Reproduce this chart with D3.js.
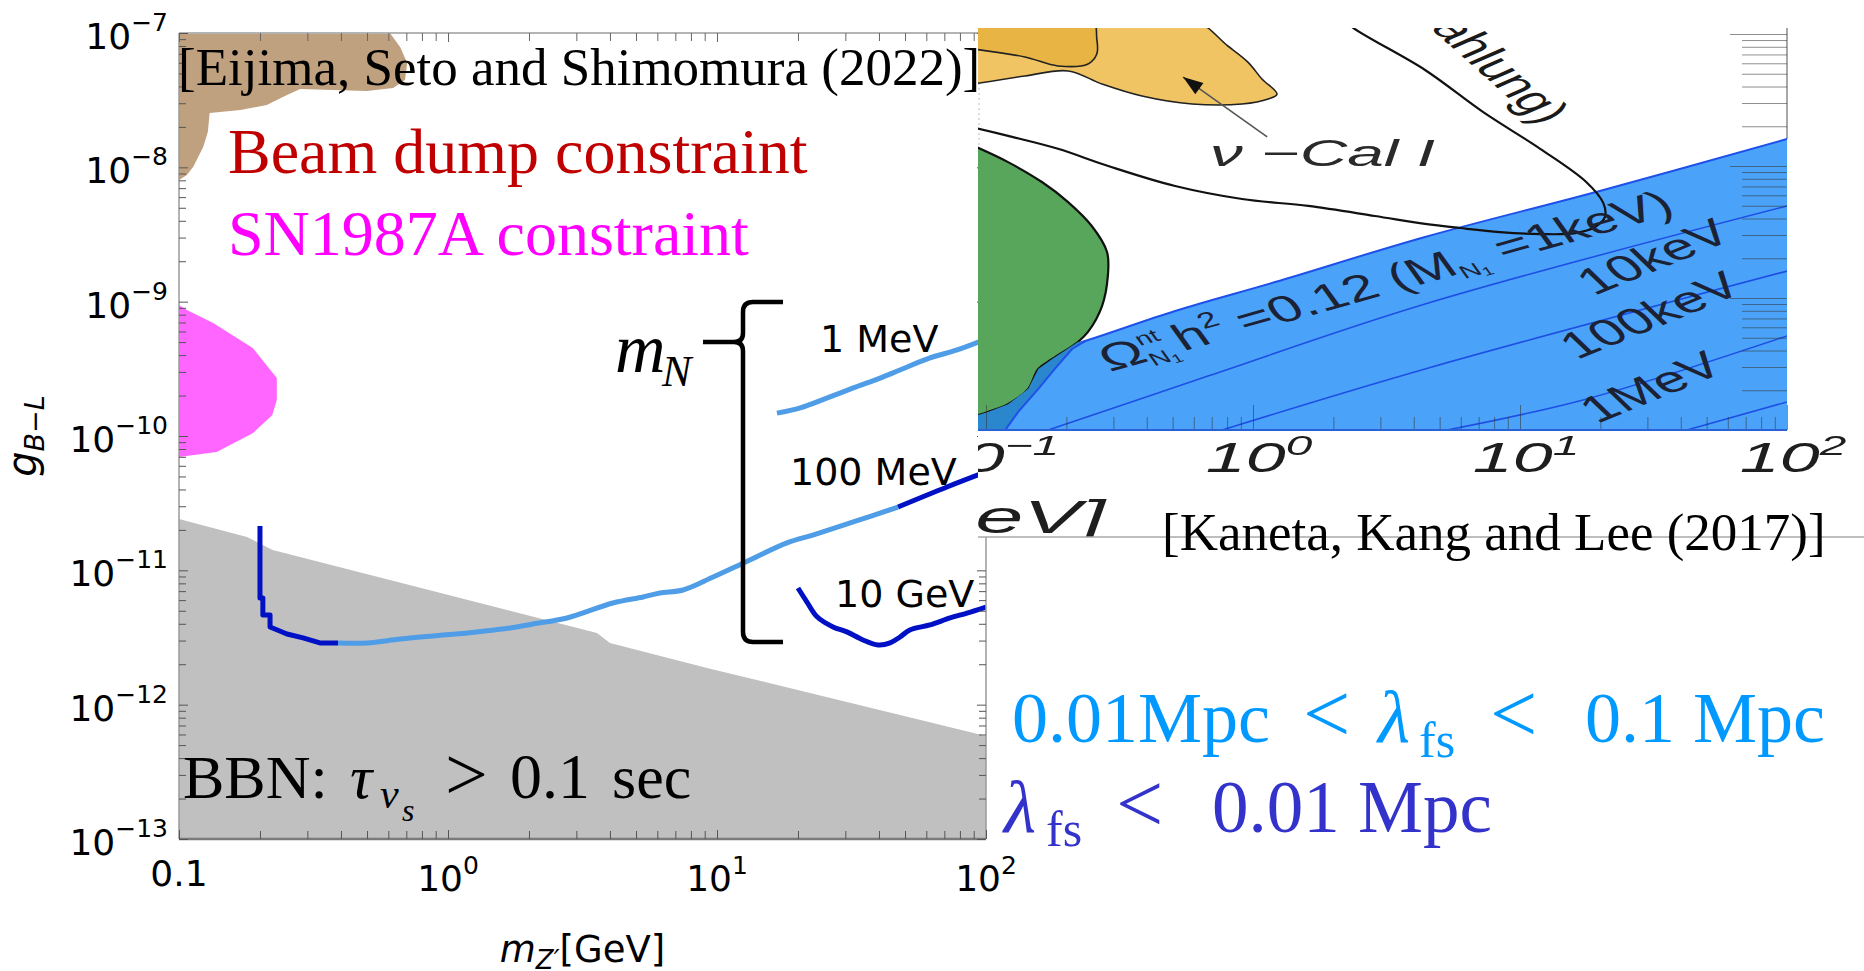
<!DOCTYPE html>
<html>
<head>
<meta charset="utf-8">
<title>B−L gauge coupling constraints</title>
<script src="https://cdn.jsdelivr.net/npm/d3@7"></script>
<style>
  html, body { margin: 0; padding: 0; background: #fff; }
  svg { display: block; }
</style>
</head>
<body>
<svg id="fig" width="1864" height="971"></svg>
<script>
// ---------------- Left panel: g_{B-L} versus m_{Z'} [GeV] ----------------
const xMajorTicks = [0.1, 1, 10, 100];
const xTickBases = ["0.1", "10", "10", "10"];
const xTickExps = [null, "0", "1", "2"];
const yMajorExponents = [-13, -12, -11, -10, -9, -8, -7];

// Excluded regions, points as [m_Z' (GeV), g_{B-L}]
const beamDump = [[0.1,1e-7],[0.608,1e-7],[0.664,7.87e-8],[0.705,5.98e-8],[0.692,4.47e-8],[0.625,3.90e-8],
  [0.5,3.70e-8],[0.282,3.83e-8],[0.252,3.46e-8],[0.212,2.91e-8],[0.169,2.67e-8],[0.130,2.54e-8],
  [0.128,1.83e-8],[0.123,1.42e-8],[0.113,1.01e-8],[0.107,8.77e-9],[0.1,8.05e-9]];
const sn1987a = [[0.1,9.44e-10],[0.107,8.67e-10],[0.134,6.94e-10],[0.188,4.52e-10],[0.231,2.70e-10],
  [0.231,1.85e-10],[0.222,1.43e-10],[0.188,1.05e-10],[0.138,7.60e-11],[0.1,6.98e-11]];
const bbnUpperEdge = [[0.1,2.41e-11],[0.179,1.77e-11],[0.223,1.42e-11],[3.58,3.42e-12],[4.0,2.88e-12],
  [9.26,1.87e-12],[100,5.85e-13]];

// Contours for three sterile-neutrino masses
const curve1MeV = [[16.7,1.48e-10],[20.4,1.62e-10],[25.7,1.92e-10],[32.1,2.28e-10],[40.4,2.70e-10],
  [47.9,3.10e-10],[61.9,3.81e-10],[78.0,4.37e-10],[100,5.27e-10]];
const curve100MeVLow = [[0.2,2.14e-11],[0.2,6.22e-12],[0.205,6.22e-12],[0.205,4.65e-12],[0.218,4.65e-12],
  [0.218,3.79e-12],[0.252,3.36e-12],[0.289,3.14e-12],[0.334,2.88e-12],[0.39,2.88e-12]];
const curve100MeVMid = [[0.39,2.88e-12],[0.5,2.88e-12],[0.664,3.08e-12],[0.879,3.25e-12],[1.18,3.42e-12],
  [1.70,3.72e-12],[2.07,3.99e-12],[2.77,4.42e-12],[4.10,5.71e-12],[5.31,6.33e-12],[6.14,6.78e-12],
  [7.48,7.14e-12],[9.67,8.92e-12],[12.5,1.13e-11],[18.2,1.60e-11],[22.7,1.83e-11],[32.1,2.29e-11],[47.1,2.96e-11]];
const curve100MeVHigh = [[47.1,2.96e-11],[71.6,4.17e-11],[100,5.40e-11]];
const curve10GeV = [[20.0,7.39e-12],[21.6,5.81e-12],[23.6,4.49e-12],[27.0,3.79e-12],[30.4,3.48e-12],
  [34.9,3.03e-12],[39.7,2.78e-12],[44.0,2.88e-12],[47.9,3.19e-12],[52.1,3.60e-12],[61.9,3.92e-12],
  [73.5,4.42e-12],[85.0,4.81e-12],[100,5.33e-12]];
const mNLabels = ["1 MeV", "100 MeV", "10 GeV"];

// ---------------- Right panel: relic-abundance plane ----------------
const rightXTicks = [0.1, 1, 10, 100];
const rightXExps = ["−1", "0", "1", "2"];
const relicBoundary1keV = [[0.09,2.6e-12],[0.235,4.72e-12],[0.511,7.97e-12],[1.21,1.32e-11],[4.41,2.90e-11],
  [19.9,6.47e-11],[100,1.60e-10]];
const relic10keV = [[0.171,1e-12],[0.678,2.56e-12],[4.41,9.0e-12],[100,4.98e-11]];
const relic100keV = [[0.766,1e-12],[4.41,2.90e-12],[100,1.60e-11]];
const relic1MeV = [[5.33,1e-12],[17.8,1.72e-12],[100,5.16e-12]];
const relic10MeV = [[42.2,1e-12],[100,1.63e-12]];
const relicLabels = ["10keV", "100keV", "1MeV"];
const greenRegion = [[0.09,1.42e-10],[0.121,1.07e-10],[0.162,7.56e-11],[0.203,5.33e-11],[0.249,3.51e-11],
  [0.284,2.23e-11],[0.286,1.47e-11],[0.272,8.69e-12],[0.241,5.53e-12],[0.221,4.64e-12],[0.177,3.45e-12],
  [0.157,2.90e-12],[0.144,2.05e-12],[0.121,1.57e-12],[0.1017,1.37e-12],[0.09,1.27e-12]];
const overlapBand = [[0.235,4.72e-12],[0.210,4.11e-12],[0.181,2.90e-12],[0.157,2.05e-12],[0.132,1.37e-12],
  [0.118,1e-12],[0.09,1e-12],[0.09,1.27e-12],[0.1017,1.37e-12],[0.121,1.57e-12],[0.144,2.05e-12],
  [0.157,2.90e-12],[0.177,3.45e-12],[0.221,4.64e-12]];
const nuCalOuter = [[0.09,1.3e-9],[0.586,1.3e-9],[0.805,8.11e-10],[0.957,6.13e-10],[1.08,4.56e-10],
  [1.23,3.51e-10],[1.14,3.22e-10],[0.910,2.95e-10],[0.591,2.95e-10],[0.384,3.39e-10],[0.272,4.18e-10],
  [0.203,5.25e-10],[0.140,4.81e-10],[0.09,4.18e-10]];
const nuCalInner = [[0.09,1.3e-9],[0.249,1.3e-9],[0.260,9.17e-10],[0.260,7.05e-10],[0.241,5.93e-10],
  [0.186,5.73e-10],[0.140,6.70e-10],[0.09,7.69e-10]];
const bremsCurve = [[2.2,1.3e-9],[2.35,1.13e-9],[4.41,5.34e-10],[7.26,2.57e-10],[11.9,1.35e-10],
  [17.7,7.57e-11],[20.5,5.25e-11],[20.8,4.11e-11],[19.1,3.45e-11],[16.1,3.10e-11],[11.9,3.05e-11],
  [8.41,3.16e-11],[5.96,3.39e-11],[4.41,3.64e-11],[2.86,4.18e-11],[1.61,4.98e-11],[0.910,5.62e-11],
  [0.511,7.05e-11],[0.287,1.0e-10],[0.186,1.35e-10],[0.121,1.69e-10],[0.09,1.95e-10]];
const nuCalArrow = [[1.13,1.66e-10],[0.547,4.72e-10]];

// ---------------- Scales ----------------
const L = { left: 179, right: 986, top: 33, bottom: 839 };
const x = d3.scaleLog().domain([0.1, 100]).range([L.left, L.right]);
const y = d3.scaleLog().domain([1e-13, 1e-7]).range([L.bottom, L.top]);

const R = { left: 986, right: 1787, top: 34, bottom: 430 };
const xr = d3.scaleLog().domain([0.1, 100]).range([R.left, R.right]);
const yr = d3.scaleLog().domain([1e-12, 1e-9]).range([R.bottom, R.top]);

const svg = d3.select("#fig");
const defs = svg.append("defs");
function clipRect(id, x0, y0, w, h) {
  defs.append("clipPath").attr("id", id).append("rect")
    .attr("x", x0).attr("y", y0).attr("width", w).attr("height", h);
}
clipRect("clipLeft", L.left, L.top, L.right - L.left, L.bottom - L.top);
clipRect("clipRight", 978, 28, R.right - 978, R.bottom - 28);
clipRect("clipImage", 978, 28, 886, 509);

const minorTicks = (e0, e1) => {
  const out = [];
  for (let e = e0; e < e1; e++) for (let k = 2; k <= 9; k++) out.push(k * Math.pow(10, e));
  return out;
};

const lineL = d3.line().x(d => x(d[0])).y(d => y(d[1]));
const smoothL = d3.line().x(d => x(d[0])).y(d => y(d[1])).curve(d3.curveCatmullRom.alpha(0.5));
const lineR = d3.line().x(d => xr(d[0])).y(d => yr(d[1]));
const smoothR = d3.line().x(d => xr(d[0])).y(d => yr(d[1])).curve(d3.curveCatmullRom.alpha(0.5));

// ================= Left panel =================
const gLeft = svg.append("g");
const fills = gLeft.append("g").attr("clip-path", "url(#clipLeft)");
fills.append("path").attr("d", lineL(beamDump) + "Z").attr("fill", "#bfa07f");
fills.append("path").attr("d", lineL(sn1987a) + "Z").attr("fill", "#ff66ff");
fills.append("path").attr("d", lineL([...bbnUpperEdge, [100, 1e-13], [0.1, 1e-13]]) + "Z").attr("fill", "#c0c0c0");

const curves = gLeft.append("g").attr("clip-path", "url(#clipLeft)")
  .attr("fill", "none").attr("stroke-width", 5).attr("stroke-linejoin", "round");
const lightBlue = "#4f9de6", darkBlue = "#0010c4";
curves.append("path").attr("d", smoothL(curve1MeV)).attr("stroke", lightBlue);
curves.append("path").attr("d", lineL(curve100MeVLow)).attr("stroke", darkBlue);
curves.append("path").attr("d", smoothL(curve100MeVMid)).attr("stroke", lightBlue);
curves.append("path").attr("d", smoothL(curve100MeVHigh)).attr("stroke", darkBlue);
curves.append("path").attr("d", smoothL(curve10GeV)).attr("stroke", darkBlue);

// frame
const frame = gLeft.append("g");
frame.append("line").attr("x1", L.left).attr("x2", L.right).attr("y1", L.top).attr("y2", L.top).attr("stroke", "#b4b4b4").attr("stroke-width", 2);
frame.append("line").attr("x1", L.left).attr("x2", L.left).attr("y1", L.top).attr("y2", L.bottom).attr("stroke", "#9a9a9a").attr("stroke-width", 1.5);
frame.append("line").attr("x1", L.right).attr("x2", L.right).attr("y1", L.top).attr("y2", L.bottom).attr("stroke", "#9a9a9a").attr("stroke-width", 1.5);
frame.append("line").attr("x1", L.left).attr("x2", L.right).attr("y1", L.bottom).attr("y2", L.bottom).attr("stroke", "#7a7a7a").attr("stroke-width", 2.5);

function tickAxis(parent, axisFn, scale, values, size, tx, ty, color) {
  parent.append("g").attr("transform", `translate(${tx},${ty})`).attr("color", color)
    .call(axisFn(scale).tickValues(values).tickSize(size).tickFormat(""))
    .call(g => g.select(".domain").remove());
}
const yMajor = yMajorExponents.map(e => Math.pow(10, e));
const yMinor = minorTicks(-13, -7);
const xMinor = minorTicks(-1, 2);
tickAxis(frame, d3.axisLeft, y, yMajor, -9, L.left, 0, "#555");
tickAxis(frame, d3.axisLeft, y, yMinor, -7, L.left, 0, "#555");
tickAxis(frame, d3.axisRight, y, yMajor, -9, L.right, 0, "#555");
tickAxis(frame, d3.axisRight, y, yMinor, -7, L.right, 0, "#555");
tickAxis(frame, d3.axisBottom, x, xMajorTicks, -9, 0, L.bottom, "#555");
tickAxis(frame, d3.axisBottom, x, xMinor, -8, 0, L.bottom, "#555");
tickAxis(frame, d3.axisTop, x, xMajorTicks, -9, 0, L.top, "#666");
tickAxis(frame, d3.axisTop, x, xMinor, -8, 0, L.top, "#666");

// tick labels
const tickText = gLeft.append("g").attr("font-family", "DejaVu Sans").attr("fill", "#000");
yMajorExponents.forEach(e => {
  const t = tickText.append("text").attr("x", 168).attr("y", y(Math.pow(10, e)) + 16).attr("text-anchor", "end");
  t.append("tspan").attr("font-size", 36).text("10");
  t.append("tspan").attr("font-size", 25).attr("dy", -18).text("−" + Math.abs(e));
});
xMajorTicks.forEach((v, i) => {
  const t = tickText.append("text").attr("x", x(v)).attr("text-anchor", "middle");
  if (xTickExps[i] === null) {
    t.attr("y", 886).attr("font-size", 36).text(xTickBases[i]);
  } else {
    t.attr("y", 891);
    t.append("tspan").attr("font-size", 36).text(xTickBases[i]);
    t.append("tspan").attr("font-size", 25).attr("dy", -17).text(xTickExps[i]);
  }
});

// axis titles
const xt = gLeft.append("text").attr("x", (L.left + L.right) / 2).attr("y", 962)
  .attr("text-anchor", "middle").attr("font-family", "DejaVu Sans").attr("fill", "#000");
xt.append("tspan").attr("font-size", 37).attr("font-style", "italic").text("m");
xt.append("tspan").attr("font-size", 26).attr("font-style", "italic").attr("dy", 7).text("Z′");
xt.append("tspan").attr("font-size", 37).attr("dy", -7).text("[GeV]");

const yt = gLeft.append("text").attr("transform", `translate(36,${(L.top + L.bottom) / 2}) rotate(-90)`)
  .attr("text-anchor", "middle").attr("font-family", "DejaVu Sans").attr("font-style", "italic").attr("fill", "#000");
yt.append("tspan").attr("font-size", 40).text("g");
yt.append("tspan").attr("font-size", 27).attr("dy", 8).text("B−L");

// annotations
const serif = "Liberation Serif, Times New Roman, serif";
gLeft.append("text").attr("x", 178).attr("y", 85).attr("font-family", serif).attr("font-size", 53)
  .attr("fill", "#000").text("[Eijima, Seto and Shimomura (2022)]");
gLeft.append("text").attr("x", 228).attr("y", 173).attr("font-family", serif).attr("font-size", 64)
  .attr("fill", "#c00000").text("Beam dump constraint");
gLeft.append("text").attr("x", 228).attr("y", 255).attr("font-family", serif).attr("font-size", 64)
  .attr("fill", "#ff00ff").text("SN1987A constraint");

const bbn = gLeft.append("g").attr("font-family", serif).attr("fill", "#000");
bbn.append("text").attr("x", 183).attr("y", 798).attr("font-size", 62).text("BBN:");
bbn.append("text").attr("x", 350).attr("y", 798).attr("font-size", 62).attr("font-style", "italic").text("τ");
bbn.append("text").attr("x", 380).attr("y", 808).attr("font-size", 42).attr("font-style", "italic").text("ν");
bbn.append("text").attr("x", 402).attr("y", 821).attr("font-size", 32).attr("font-style", "italic").text("s");
bbn.append("text").attr("x", 445).attr("y", 800).attr("font-size", 76).text(">");
bbn.append("text").attr("x", 510).attr("y", 798).attr("font-size", 64).text("0.1");
bbn.append("text").attr("x", 612).attr("y", 798).attr("font-size", 62).text("sec");

// m_N brace
gLeft.append("text").attr("x", 615).attr("y", 372).attr("font-family", serif).attr("font-style", "italic")
  .attr("font-size", 70).attr("fill", "#000").text("m");
gLeft.append("text").attr("x", 662).attr("y", 386).attr("font-family", serif).attr("font-style", "italic")
  .attr("font-size", 44).attr("fill", "#000").text("N");
gLeft.append("path")
  .attr("d", "M783,302 H753 Q743,302 743,312 V333 Q743,342 734,342 H703 M734,342 Q743,342 743,351 V632 Q743,642 753,642 H783")
  .attr("fill", "none").attr("stroke", "#000").attr("stroke-width", 4.5).attr("stroke-linejoin", "round");

const mnText = gLeft.append("g").attr("font-family", "DejaVu Sans").attr("font-size", 38).attr("fill", "#000");
mnText.append("text").attr("x", 820).attr("y", 352).text(mNLabels[0]);
mnText.append("text").attr("x", 790).attr("y", 485).text(mNLabels[1]);
mnText.append("text").attr("x", 835).attr("y", 607).text(mNLabels[2]);

// ================= Right panel =================
const gImg = svg.append("g").attr("clip-path", "url(#clipImage)");
gImg.append("rect").attr("x", 978).attr("y", 28).attr("width", 886).attr("height", 509).attr("fill", "#fff");

// left edge of the inset
gImg.append("line").attr("x1", 979).attr("x2", 979).attr("y1", 28).attr("y2", R.bottom)
  .attr("stroke", "#bbb").attr("stroke-width", 1).attr("stroke-dasharray", "2,3");
// right frame above the band
gImg.append("line").attr("x1", R.right).attr("x2", R.right).attr("y1", 28).attr("y2", yr(1.6e-10))
  .attr("stroke", "#a8a8a8").attr("stroke-width", 2);

const gR = gImg.append("g").attr("clip-path", "url(#clipRight)");
gR.append("path").attr("d", lineR([...relicBoundary1keV, [100, 1e-12], [0.09, 1e-12]]) + "Z").attr("fill", "#4ba3f9");
[relic10keV, relic100keV, relic1MeV, relic10MeV].forEach(arr => {
  gR.append("path").attr("d", smoothR(arr)).attr("fill", "none").attr("stroke", "#1d4fe4").attr("stroke-width", 1.6);
});
gR.append("path").attr("d", smoothR(relicBoundary1keV)).attr("fill", "none").attr("stroke", "#1e50ea").attr("stroke-width", 2);
gR.append("path").attr("d", smoothR(greenRegion) + "Z").attr("fill", "#58a55c")
  .attr("stroke", "#111").attr("stroke-width", 2.2);
gR.append("path").attr("d", lineR(overlapBand) + "Z").attr("fill", "#2b87cd");
gR.append("path").attr("d", lineR(overlapBand.slice(0, 6))).attr("fill", "none").attr("stroke", "#1e50ea").attr("stroke-width", 2);
gR.append("path").attr("d", smoothR(nuCalOuter) + "Z").attr("fill", "#f1c463").attr("stroke", "#222").attr("stroke-width", 1.6);
gR.append("path").attr("d", smoothR(nuCalInner) + "Z").attr("fill", "#e8b545").attr("stroke", "#222").attr("stroke-width", 1.6);
gR.append("path").attr("d", smoothR(bremsCurve)).attr("fill", "none").attr("stroke", "#111").attr("stroke-width", 2.2);

// arrow to the nu-Cal I region
gR.append("line").attr("x1", xr(nuCalArrow[0][0])).attr("y1", yr(nuCalArrow[0][1]))
  .attr("x2", xr(nuCalArrow[1][0])).attr("y2", yr(nuCalArrow[1][1]))
  .attr("stroke", "#555").attr("stroke-width", 1.6);
gR.append("path").attr("d", (() => {
  const x2 = xr(nuCalArrow[1][0]), y2 = yr(nuCalArrow[1][1]);
  const x1 = xr(nuCalArrow[0][0]), y1 = yr(nuCalArrow[0][1]);
  const a = Math.atan2(y2 - y1, x2 - x1), len = 20, hw = 7;
  const bx = x2 - len * Math.cos(a), by = y2 - len * Math.sin(a);
  return `M${x2},${y2} L${bx - hw * Math.sin(a)},${by + hw * Math.cos(a)} L${bx + hw * Math.sin(a)},${by - hw * Math.cos(a)} Z`;
})()).attr("fill", "#111");

// inset texts (stretched horizontally like the inset itself)
const sansR = "Liberation Sans, Arial, sans-serif";
const inkR = "#1c2233";
gR.append("text").attr("x", 1210).attr("y", 166).attr("font-family", sansR).attr("font-style", "italic")
  .attr("font-size", 37).attr("fill", "#2a2a2a").attr("textLength", 225).attr("lengthAdjust", "spacingAndGlyphs")
  .text("ν −Cal I");

gR.append("g").attr("transform", "translate(1540,126) scale(1.6,1) rotate(55)")
  .append("text").attr("text-anchor", "end").attr("font-family", sansR).attr("font-size", 36)
  .attr("fill", "#1a1a1a").text("(Bremsstrahlung)");

const om = gR.append("g").attr("transform", "translate(1110,372) scale(1.6,1) rotate(-24.2)")
  .append("text").attr("font-family", sansR).attr("fill", inkR);
om.append("tspan").attr("font-size", 37).text("Ω");
om.append("tspan").attr("font-size", 18).attr("dy", -16).text("nt");
om.append("tspan").attr("font-size", 18).attr("dx", -15).attr("dy", 22).text("N");
om.append("tspan").attr("font-size", 12).attr("dy", 3).text("1");
om.append("tspan").attr("font-size", 37).attr("dx", 3).attr("dy", -9).text("h");
om.append("tspan").attr("font-size", 22).attr("dy", -15).text("2");
om.append("tspan").attr("font-size", 37).attr("dy", 15).text(" =0.12 (M");
om.append("tspan").attr("font-size", 18).attr("dy", 6).text("N");
om.append("tspan").attr("font-size", 12).attr("dy", 3).text("1");
om.append("tspan").attr("font-size", 37).attr("dy", -9).text(" =1keV)");

const relicLabelPos = [[1594, 296], [1577, 360], [1597, 424]];
relicLabels.forEach((s, i) => {
  gR.append("g").attr("transform", `translate(${relicLabelPos[i][0]},${relicLabelPos[i][1]}) scale(1.6,1) rotate(-33)`)
    .append("text").attr("font-family", sansR).attr("font-size", 37).attr("fill", inkR).text(s);
});

// inset axes ticks
const tickR = gImg.append("g").attr("opacity", 0.55);
tickAxis(tickR, d3.axisBottom, xr, rightXTicks, -25, 0, R.bottom, "#333");
tickAxis(tickR, d3.axisBottom, xr, minorTicks(-1, 2), -13, 0, R.bottom, "#333");
tickAxis(tickR, d3.axisRight, yr, [1e-12, 1e-11, 1e-10, 1e-9], -57, R.right, 0, "#333");
tickAxis(tickR, d3.axisRight, yr, minorTicks(-12, -9), -45, R.right, 0, "#333");
gImg.append("line").attr("x1", 978).attr("x2", R.right).attr("y1", R.bottom).attr("y2", R.bottom)
  .attr("stroke", "#2a62d6").attr("stroke-width", 2);

rightXTicks.forEach((v, i) => {
  const t = gImg.append("g").attr("transform", `translate(${xr(v) + 6},472) scale(1.71,1)`)
    .append("text").attr("text-anchor", "middle").attr("font-family", sansR).attr("font-style", "italic").attr("fill", "#1e1e1e");
  t.append("tspan").attr("font-size", 42).text("10");
  t.append("tspan").attr("font-size", 28).attr("dy", -17).text(rightXExps[i]);
});
gImg.append("g").attr("transform", "translate(1105,533) scale(1.88,1)")
  .append("text").attr("text-anchor", "end").attr("font-family", sansR).attr("font-style", "italic")
  .attr("font-size", 46).attr("fill", "#1e1e1e").text("[GeV]");

svg.append("line").attr("x1", 978).attr("x2", 1864).attr("y1", 537).attr("y2", 537)
  .attr("stroke", "#a8a8a8").attr("stroke-width", 1.5);
svg.append("text").attr("x", 1162).attr("y", 550).attr("font-family", serif).attr("font-size", 53)
  .attr("fill", "#000").text("[Kaneta, Kang and Lee (2017)]");

// ================= Free-streaming legend =================
const fsLight = "#0099ff", fsDark = "#3333cc";
const fs = svg.append("g").attr("font-family", serif);
fs.append("text").attr("x", 1012).attr("y", 742).attr("font-size", 72).attr("fill", fsLight).text("0.01Mpc");
fs.append("text").attr("x", 1303).attr("y", 742).attr("font-size", 84).attr("fill", fsLight).text("<");
fs.append("text").attr("x", 1378).attr("y", 742).attr("font-size", 74).attr("font-style", "italic").attr("fill", fsLight).text("λ");
fs.append("text").attr("x", 1419).attr("y", 757).attr("font-size", 50).attr("fill", fsLight).text("fs");
fs.append("text").attr("x", 1490).attr("y", 742).attr("font-size", 84).attr("fill", fsLight).text("<");
fs.append("text").attr("x", 1585).attr("y", 742).attr("font-size", 72).attr("fill", fsLight).text("0.1 Mpc");
fs.append("text").attr("x", 1004).attr("y", 832).attr("font-size", 74).attr("font-style", "italic").attr("fill", fsDark).text("λ");
fs.append("text").attr("x", 1046).attr("y", 846).attr("font-size", 50).attr("fill", fsDark).text("fs");
fs.append("text").attr("x", 1116).attr("y", 832).attr("font-size", 84).attr("fill", fsDark).text("<");
fs.append("text").attr("x", 1212).attr("y", 832).attr("font-size", 73).attr("fill", fsDark).text("0.01 Mpc");
</script>
</body>
</html>
